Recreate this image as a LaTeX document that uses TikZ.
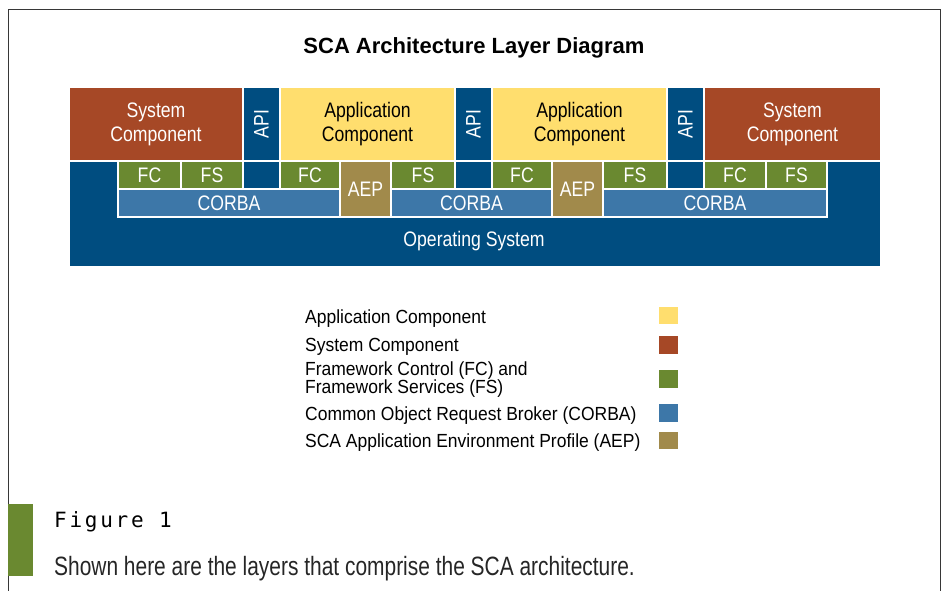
\documentclass[tikz,border=0pt]{standalone}
\usepackage{fontspec}
\setmainfont{Liberation Sans}
\newfontfamily\boxfont{Liberation Sans}[FakeStretch=0.84]
\newfontfamily\keyfont{Liberation Sans}[FakeStretch=0.92]
\newfontfamily\notefont{Liberation Sans}[FakeStretch=0.79]
\newfontfamily\figfont{DejaVu Sans Mono}[LetterSpace=13]
\usepackage{xcolor}
\definecolor{sysred}{RGB}{166, 72, 38}
\definecolor{apiblue}{RGB}{0, 77, 128}
\definecolor{appyellow}{RGB}{255, 222, 110}
\definecolor{fwgreen}{RGB}{106, 137, 48}
\definecolor{corbablue}{RGB}{61, 119, 168}
\definecolor{aepgold}{RGB}{161, 138, 75}
\definecolor{framegray}{RGB}{55, 55, 55}
\usepackage{tikz}
\usetikzlibrary{
    positioning
}
\tikzstyle{layer} = [
    rectangle,
    draw=white,
    line width=1.5pt,
    inner sep=0pt,
    outer sep=0pt,
    text centered,
    align=center,
    text=white,
    font=\boxfont\fontsize{21}{24}\selectfont
]
\tikzstyle{sysbox} = [layer, fill=sysred, minimum height=74]
\tikzstyle{appbox} = [layer, fill=appyellow, text=black, minimum width=175, minimum height=74]
\tikzstyle{apibox} = [layer, fill=apiblue, minimum width=37, minimum height=74]
\tikzstyle{fwbox} = [layer, fill=fwgreen, minimum height=28]
\tikzstyle{corbabox} = [layer, fill=corbablue, minimum height=28]
\tikzstyle{aepbox} = [layer, fill=aepgold, minimum width=51, minimum height=56]
\tikzstyle{osbox} = [layer, fill=apiblue]
\tikzstyle{swatch} = [
    rectangle,
    inner sep=0pt,
    minimum width=18.4,
    minimum height=17.6
]
\tikzstyle{keytext} = [
    inner sep=0pt,
    align=left,
    font=\keyfont\fontsize{19}{16.7}\selectfont
]

\begin{document}
\begin{tikzpicture}[x=1pt, y=-1pt]
\useasboundingbox (0,0) rectangle (943,591);

% page frame and figure tab
\draw[framegray, line width=1.6pt] (8.5,591) -- (8.5,9.5) -- (940.5,9.5) -- (940.5,591);
\fill[fwgreen] (8,504) rectangle (33,576);

\node[anchor=base, inner sep=0pt, font=\fontsize{22}{26}\selectfont\bfseries]
    (title) at (474,53.3) {SCA Architecture Layer Diagram};

% top row: components and APIs
\node (sysL) [sysbox, minimum width=174, anchor=north west] at (69,87)
    {System\\Component};
\node (api1) [apibox, right=0pt of sysL] {\rotatebox{90}{API}};
\node (app1) [appbox, right=0pt of api1] {Application\\Component};
\node (api2) [apibox, right=0pt of app1] {\rotatebox{90}{API}};
\node (app2) [appbox, right=0pt of api2] {Application\\Component};
\node (api3) [apibox, right=0pt of app2] {\rotatebox{90}{API}};
\node (sysR) [sysbox, minimum width=177, right=0pt of api3]
    {System\\Component};

% operating system below
\node (os) [osbox, minimum width=812, minimum height=106, anchor=north west]
    at (sysL.south west) {};
\node (oslabel) [layer, draw=none, anchor=base] at (474,246.7) {Operating System};

% framework control / services and AEP
\node (fs1) [fwbox, minimum width=62, anchor=north east] at (sysL.south east) {FS};
\node (fc1) [fwbox, minimum width=63, left=0pt of fs1] {FC};

\node (fc2) [fwbox, minimum width=60, anchor=north west] at (app1.south west) {FC};
\node (aep1) [aepbox, anchor=north west] at (fc2.north east) {AEP};
\node (fs2) [fwbox, minimum width=64, anchor=north east] at (app1.south east) {FS};

\node (fc3) [fwbox, minimum width=60, anchor=north west] at (app2.south west) {FC};
\node (aep2) [aepbox, anchor=north west] at (fc3.north east) {AEP};
\node (fs3) [fwbox, minimum width=64, anchor=north east] at (app2.south east) {FS};

\node (fc4) [fwbox, minimum width=62, anchor=north west] at (sysR.south west) {FC};
\node (fs4) [fwbox, minimum width=61, right=0pt of fc4] {FS};

% CORBA
\node (corba1) [corbabox, minimum width=222, anchor=north west] at (fc1.south west) {CORBA};
\node (corba2) [corbabox, minimum width=161, anchor=north west] at (fs2.south west) {CORBA};
\node (corba3) [corbabox, minimum width=224, anchor=north west] at (fs3.south west) {CORBA};

% legend
\node (keyapp) [keytext, anchor=base west] at (305,323.3) {Application Component};
\node (keysys) [keytext, anchor=base west] at (305,351.7) {System Component};
\node (keyfw) [keytext, anchor=west] at (305,379.5)
    {Framework Control (FC) and\\Framework Services (FS)};
\node (keycorba) [keytext, anchor=base west] at (305,420) {Common Object Request Broker (CORBA)};
\node (keyaep) [keytext, anchor=base west] at (305,447.7) {SCA Application Environment Profile (AEP)};

\node (swapp) [swatch, fill=appyellow] at (668.5,315.5) {};
\node (swsys) [swatch, fill=sysred] at (668.5,344.7) {};
\node (swfw) [swatch, fill=fwgreen] at (668.5,379) {};
\node (swcorba) [swatch, fill=corbablue] at (668.5,412.7) {};
\node (swaep) [swatch, fill=aepgold] at (668.5,440.3) {};

% caption
\node (figno) [anchor=base west, inner sep=0pt, font=\figfont\fontsize{21}{24}\selectfont]
    at (54,527.3) {Figure 1};
\node (caption) [anchor=base west, inner sep=0pt, text=black!85,
    font=\notefont\fontsize{26.5}{30}\selectfont]
    at (54,575) {Shown here are the layers that comprise the SCA architecture.};

\end{tikzpicture}
\end{document}
